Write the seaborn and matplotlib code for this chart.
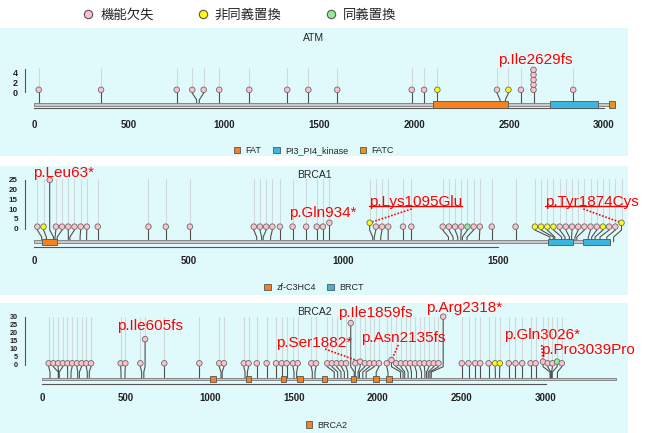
import numpy as np
import pandas as pd
import matplotlib
matplotlib.use("Agg")
import matplotlib.pyplot as plt
from matplotlib.patches import Rectangle, Patch
from matplotlib.lines import Line2D
import seaborn as sns

sns.set_style("white")
plt.rcParams["font.family"] = ["Liberation Sans", "Noto Sans CJK JP", "DejaVu Sans"]

LOF, MIS, SYN = "機能欠失", "非同義置換", "同義置換"
type_colors = {LOF: "#FFC0CB", MIS: "#FFFF00", SYN: "#90EE90"}

# ---- ATM
atm_len = 3056
atm_pos = [25, 353, 751, 856, 870, 975, 1133, 1333, 1444, 1596,
           1988, 2053, 2123, 2453, 2481, 2563, 2629, 2838]
atm_count = {2629: 5}
atm_kind = {2123: MIS, 2481: MIS}
atm_dom_name = ["FAT", "PI3_PI4_kinase", "FATC"]
atm_dom_start = [2102, 2717, 3024]
atm_dom_end = [2496, 2970, 3056]
atm_labels = [(2629, "p.Ile2629fs")]

# ---- BRCA1
brca1_len = 1863
brca1_pos = [25, 40, 63, 68, 75, 111, 116, 149, 170, 206, 370, 426, 504,
             720, 736, 741, 765, 795, 836, 880, 914, 934, 955,
             1095, 1100, 1121, 1145, 1193, 1220,
             1340, 1355, 1370, 1380, 1385, 1400, 1440, 1480, 1557,
             1668, 1679, 1684, 1706, 1717, 1731, 1738, 1749, 1755,
             1792, 1803, 1814, 1830, 1852, 1874]
brca1_count = {63: 25, 955: 3, 1095: 3, 1874: 3}
brca1_kind = {40: MIS, 1095: MIS, 1385: SYN, 1668: MIS, 1679: MIS,
              1684: MIS, 1706: MIS, 1814: MIS, 1874: MIS}
brca1_dom_name = ["zf-C3HC4", "BRCT", "BRCT"]
brca1_dom_start = [25, 1661, 1776]
brca1_dom_end = [73, 1744, 1862]
brca1_labels = [(63, "p.Leu63*"), (934, "p.Gln934*"),
                (1095, "p.Lys1095Glu"), (1874, "p.Tyr1874Cys")]

# ---- BRCA2
brca2_len = 3418
brca2_pos = [46, 95, 97, 101, 151, 171, 211, 221, 268, 280, 469, 493, 592, 605,
             727, 936, 1065, 1072, 1208, 1222, 1278, 1337, 1393, 1427, 1456,
             1500, 1516, 1609, 1625, 1740, 1760, 1780, 1800, 1820, 1859, 1865,
             1882, 1890, 1910, 1930, 1990, 2060, 2135, 2150, 2160, 2180, 2200,
             2230, 2260, 2280, 2290, 2300, 2310, 2318, 2500, 2540, 2580, 2610,
             2660, 2700, 2725, 2780, 2820, 2860, 2910, 2940, 3026, 3030, 3035,
             3039, 3070]
brca2_count = {605: 16, 1859: 26, 1882: 2, 2135: 3, 2318: 30, 3026: 2, 3039: 2}
brca2_kind = {2700: MIS, 2725: MIS, 3039: SYN}
brca2_dom_name = ["BRCA2"] * 8
brca2_dom_start = [1002, 1212, 1421, 1517, 1664, 1837, 1971, 2051]
brca2_dom_end = [1036, 1246, 1455, 1551, 1698, 1871, 2005, 2085]
brca2_labels = [(605, "p.Ile605fs"), (1882, "p.Ser1882*"), (1859, "p.Ile1859fs"),
                (2318, "p.Arg2318*"), (2135, "p.Asn2135fs"), (3026, "p.Gln3026*"),
                (3039, "p.Pro3039Pro")]

dom_colors = {"FAT": "#F5821F", "PI3_PI4_kinase": "#3CB6E0", "FATC": "#E8951C",
              "zf-C3HC4": "#F5821F", "BRCT": "#3CB6E0", "BRCA2": "#F5821F"}

W, H = 650, 433
BG = "#E0FAFC"
fig = plt.figure(figsize=(W / 100, H / 100), dpi=100)


def spread(pos, gap):
    # push lollipop heads apart so that they keep at least `gap` between them
    p = np.asarray(pos, dtype=float)
    order = np.argsort(p, kind="stable")
    groups = []
    for v in p[order]:
        groups.append([v, 1])
        while len(groups) > 1:
            (sa, na), (sb, nb) = groups[-2], groups[-1]
            end_a = sa / na + (na - 1) * gap / 2
            start_b = sb / nb - (nb - 1) * gap / 2
            if start_b - end_a >= gap:
                break
            groups[-2:] = [[sa + sb, na + nb]]
    heads = np.concatenate([s / n + (np.arange(n) - (n - 1) / 2) * gap for s, n in groups])
    out = np.empty_like(heads)
    out[order] = heads
    return out


def panel(g, name, length, pos, count, kind, dname, dstart, dend, labels):
    X = lambda px: (px - g["x0"]) / g["sx"]
    Y = lambda py: (g["py0"] - py) / g["sy"]
    ax = fig.add_axes([0, 1 - g["bot"] / H, 628 / W, (g["bot"] - g["top"]) / H])
    ax.set_facecolor(BG)

    hx = spread(pos, g["gap"])
    heads = {}
    rows = []
    for p, h in zip(pos, hx):
        c = count.get(p, 1)
        levels = list(np.arange(1, c + 1) - 0.5) if g["stack"] else [c]
        top = max(levels)
        heads[p] = (h, top)
        ax.plot([h, h], [top, Y(g["grid"])], color="#cfd9da", lw=0.8, zorder=1)
        ax.plot([h, h, p, p], [top, Y(g["k1"]), Y(g["k2"]), Y(g["bb"])],
                color="#505050", lw=0.8, zorder=2)
        for lv in levels:
            rows.append((h, lv, kind.get(p, LOF)))
    df = pd.DataFrame(rows, columns=["x", "y", "type"])
    sns.scatterplot(data=df, x="x", y="y", hue="type", palette=type_colors,
                    s=g["s"], edgecolor="#6a6a6a", linewidth=0.6, legend=False,
                    ax=ax, zorder=4)

    # backbone and domains
    ax.add_patch(Rectangle((0, Y(g["bb"] + 1.3)), length, Y(g["bb"] - 1.3) - Y(g["bb"] + 1.3),
                           facecolor="#c8c8c8", edgecolor="#7a7a7a", lw=0.6, zorder=2.5))
    for n, s, e in zip(dname, dstart, dend):
        ax.add_patch(Rectangle((s, Y(g["dom"][1])), e - s, Y(g["dom"][0]) - Y(g["dom"][1]),
                               facecolor=dom_colors[n], edgecolor="#555555", lw=0.6, zorder=3))

    # axes
    ax.set_xlim(X(0), X(628))
    ax.set_ylim(Y(g["bot"]), Y(g["top"]))
    ax.set_xlabel("")
    ax.set_ylabel("")
    for sp in ["top", "right"]:
        ax.spines[sp].set_visible(False)
    ax.spines["bottom"].set_position(("data", Y(g["axis"])))
    ax.spines["bottom"].set_bounds(g["xticks"][0], g["xticks"][-1])
    ax.spines["left"].set_position(("data", X(25)))
    ax.spines["left"].set_bounds(g["yticks"][0], g["yticks"][-1])
    for sp in ["bottom", "left"]:
        ax.spines[sp].set_color("#555555")
        ax.spines[sp].set_linewidth(0.8)
    ax.set_xticks(g["xticks"])
    ax.set_xticklabels([str(t) for t in g["xticks"]])
    ax.set_yticks(g["yticks"])
    ax.set_yticklabels(g["ylabels"])
    ax.tick_params(axis="x", direction="out", length=2.5, width=0.8, color="#555555",
                   pad=g["xpad"], labelsize=7)
    ax.tick_params(axis="y", direction="out", length=3.6, width=0.8, color="#555555",
                   pad=1.5, labelsize=g["ysize"])
    for t in ax.get_xticklabels() + ax.get_yticklabels():
        t.set_fontweight("bold")
        t.set_color("#222222")

    ax.text(0.5, g["title_y"], name, transform=ax.transAxes, ha="center",
            va="center", fontsize=7.5)

    # red annotations
    renderer = fig.canvas.get_renderer()
    for p, txt in labels:
        lx, ly, under, dot = g["lab"][txt]
        t = ax.text(X(lx), Y(ly), txt, color="#FF0000", fontsize=11, ha="center",
                    va="center", zorder=6)
        if under:
            bb = t.get_window_extent(renderer).transformed(ax.transData.inverted())
            ax.plot([bb.x0, bb.x1], [bb.y0 + 0.2 * (bb.y1 - bb.y0)] * 2,
                    color="#FF0000", lw=1.0, zorder=6)
        if dot is not None:
            h, top = heads[p]
            ax.plot([X(dot[0]), h], [Y(dot[1]), top], color="#FF0000", lw=1.2,
                    ls=(0, (1, 1)), zorder=3)

    handles = []
    seen = []
    for n in dname:
        if n not in seen:
            seen.append(n)
            handles.append(Patch(facecolor=dom_colors[n], edgecolor="#555555", lw=0.6))
    ax.legend(handles, seen, loc="center", bbox_to_anchor=(g["leg_x"], g["leg_y"]),
              ncol=len(seen), frameon=False, fontsize=6.5, handlelength=0.7,
              handleheight=0.7, handletextpad=0.6, columnspacing=1.3)
    return ax


atm_geo = dict(top=28, bot=156, x0=34, sx=0.19, py0=92.3, sy=5, stack=True, gap=60, s=16,
               grid=68, k1=93.1, k2=99.8, bb=104.7, dom=(101, 108), axis=108, xpad=6,
               xticks=[0, 500, 1000, 1500, 2000, 2500, 3000],
               yticks=list(np.arange(8) * 2 / 3),
               ylabels=["0", "", "", "2", "", "", "4", ""], ysize=6.5,
               title_y=0.922, leg_x=0.5, leg_y=0.04,
               lab={"p.Ile2629fs": (535, 60, False, None)})
brca1_geo = dict(top=165.7, bot=295, x0=34, sx=0.3093, py0=228.6, sy=1.946, stack=False,
                 gap=20, s=16, grid=179, k1=230, k2=237, bb=241.7, dom=(239, 245.3),
                 axis=246.7, xpad=4, xticks=[0, 500, 1000, 1500],
                 yticks=[0, 5, 10, 15, 20, 25], ylabels=["0", "5", "10", "15", "20", "25"],
                 ysize=5.8, title_y=0.928, leg_x=0.5, leg_y=0.056,
                 lab={"p.Leu63*": (63.3, 172.7, False, None),
                      "p.Gln934*": (323, 213, False, None),
                      "p.Lys1095Glu": (415.5, 201.7, True, (411.7, 209)),
                      "p.Tyr1874Cys": (591.7, 201.7, True, (583.3, 209))})
brca2_geo = dict(top=303, bot=433, x0=42.3, sx=0.1678, py0=364.9, sy=1.607, stack=False,
                 gap=28, s=16, grid=317, k1=366.7, k2=372, bb=379, dom=(376, 382),
                 axis=384, xpad=4, xticks=[0, 500, 1000, 1500, 2000, 2500, 3000],
                 yticks=[0, 5, 10, 15, 20, 25, 30],
                 ylabels=["0", "5", "10", "15", "20", "25", "30"], ysize=5.2,
                 title_y=0.933, leg_x=0.52, leg_y=0.06,
                 lab={"p.Ile605fs": (150.5, 326, False, None),
                      "p.Ser1882*": (314.5, 343, False, (325, 349)),
                      "p.Ile1859fs": (375.5, 313.3, False, None),
                      "p.Arg2318*": (463.8, 308.3, False, None),
                      "p.Asn2135fs": (403, 338.3, False, (398.3, 345)),
                      "p.Gln3026*": (542.5, 335, False, (541.7, 345)),
                      "p.Pro3039Pro": (587.5, 350, False, None)})

panel(atm_geo, "ATM", atm_len, atm_pos, atm_count, atm_kind,
      atm_dom_name, atm_dom_start, atm_dom_end, atm_labels)
panel(brca1_geo, "BRCA1", brca1_len, brca1_pos, brca1_count, brca1_kind,
      brca1_dom_name, brca1_dom_start, brca1_dom_end, brca1_labels)
panel(brca2_geo, "BRCA2", brca2_len, brca2_pos, brca2_count, brca2_kind,
      brca2_dom_name, brca2_dom_start, brca2_dom_end, brca2_labels)

handles = [Line2D([], [], marker="o", ls="", markersize=6, markerfacecolor=type_colors[k],
                  markeredgecolor="#555555", markeredgewidth=0.8) for k in [LOF, MIS, SYN]]
fig.legend(handles, [LOF, MIS, SYN], loc="center", bbox_to_anchor=(239 / W, 1 - 15 / H),
           ncol=3, frameon=False, prop={"family": ["Noto Sans CJK JP", "DejaVu Sans"], "size": 9.6},
           handlelength=1, handletextpad=0.4, columnspacing=3.2)

fig.savefig("out.png", dpi=100, facecolor="white")
